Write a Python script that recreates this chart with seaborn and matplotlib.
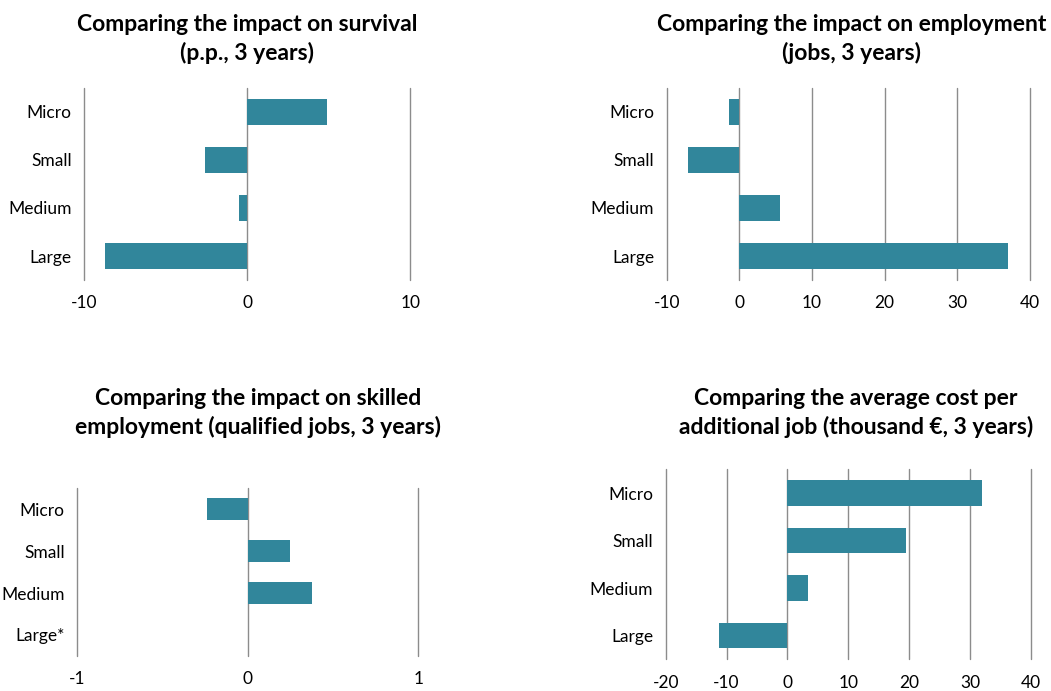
import matplotlib
matplotlib.use("Agg")
import matplotlib.pyplot as plt
import seaborn as sns
import numpy as np
import pandas as pd

sns.set_theme(style="white")
plt.rcParams["font.family"] = ["Lato", "DejaVu Sans"]

sizes = ["Micro", "Small", "Medium", "Large"]
sizes_skilled = ["Micro", "Small", "Medium", "Large*"]

survival_pp = [4.9, -2.6, -0.5, -8.7]
employment_jobs = [-1.4, -7.0, 5.6, 37.0]
skilled_jobs = [-0.24, 0.25, 0.375, np.nan]
cost_per_job = [31.9, 19.4, 3.4, -11.2]

titles = [
    "Comparing the impact on survival\n(p.p., 3 years)",
    "Comparing the impact on employment\n(jobs, 3 years)",
    "Comparing the impact on skilled\nemployment (qualified jobs, 3 years)",
    "Comparing the average cost per\nadditional job (thousand €, 3 years)",
]
x_ticks = [
    [-10, 0, 10],
    [-10, 0, 10, 20, 30, 40],
    [-1, 0, 1],
    [-20, -10, 0, 10, 20, 30, 40],
]

BAR = "#31869b"
GRID = "#8c8c8c"

W, H = 1051, 691
fig = plt.figure(figsize=(W / 100, H / 100), dpi=100)

# axes boxes in pixels: left, top, right, bottom
boxes = [
    (84.3, 88, 410.3, 280),
    (666.7, 88, 1030, 280),
    (77.3, 488, 418.3, 656),
    (665.7, 469.3, 1031, 659.3),
]
title_y = [39, 39, 413, 413]
title_x = [247.5, 852, 258, 856]

panels = [
    (sizes, survival_pp),
    (sizes, employment_jobs),
    (sizes_skilled, skilled_jobs),
    (sizes, cost_per_job),
]

for (cats, vals), box, ticks, title, tx, ty in zip(panels, boxes, x_ticks, titles, title_x, title_y):
    l, t, r, b = box
    ax = fig.add_axes([l / W, 1 - b / H, (r - l) / W, (b - t) / H])
    df = pd.DataFrame({"size": cats, "value": vals})
    sns.barplot(data=df, x="value", y="size", order=cats, orient="h",
                color=BAR, saturation=1, width=0.53, linewidth=0,
                ax=ax, zorder=3)
    ax.set_xlim(ticks[0], ticks[-1])
    ax.set_ylim(len(cats) - 0.5, -0.5)
    ax.set_xticks(ticks)
    ax.set_xticklabels([str(v) for v in ticks])
    for v in ticks:
        ax.axvline(v, color=GRID, lw=1.0, zorder=1, clip_on=False)
    for s in ax.spines.values():
        s.set_visible(False)
    ax.set_xlabel("")
    ax.set_ylabel("")
    ax.tick_params(axis="x", length=0, pad=11, labelsize=12.5, colors="#000000")
    ax.tick_params(axis="y", length=0, pad=9, labelsize=12.5, colors="#000000")
    ax.grid(False)
    fig.text(tx / W, 1 - ty / H, title, ha="center", va="center", color="black",
             fontsize=16.5, fontweight="bold", linespacing=1.42)

fig.savefig("out.png", dpi=100, facecolor="white")
